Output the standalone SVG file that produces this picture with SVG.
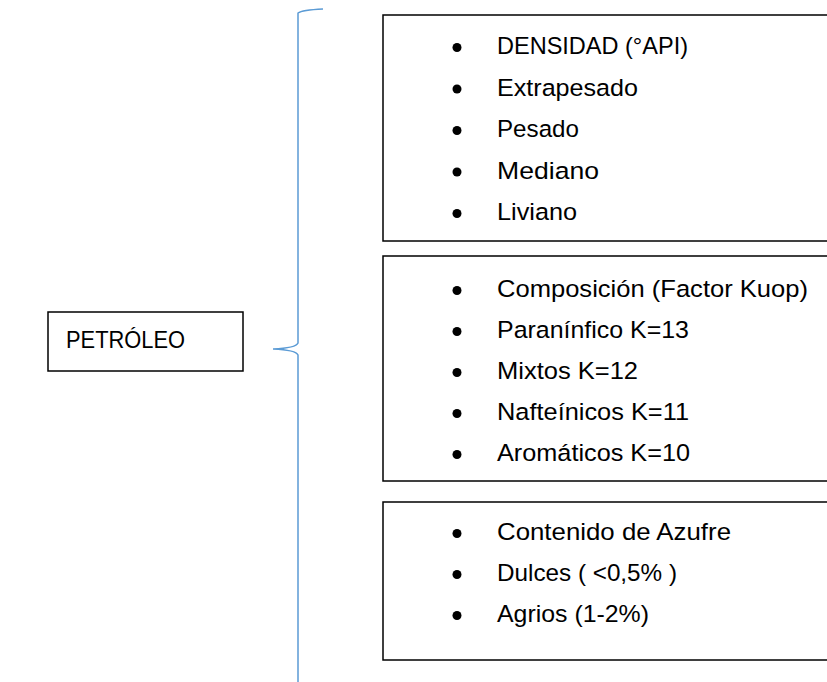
<svg xmlns="http://www.w3.org/2000/svg" width="827" height="682" viewBox="0 0 827 682">
<style>
.box{fill:#fff;stroke:#000;stroke-width:1.5}
.t{font-family:"Liberation Sans",Arial,sans-serif;font-size:24.5px;fill:#000}
.b{fill:#000}
.brace{fill:none;stroke:#5b9bd5;stroke-width:1.5}
</style>
<rect width="827" height="682" fill="#fff"/>
<g id="connectors">
<path class="brace" d="M323,9 Q302,10 298,13 L298,343 Q296,348 273,349 Q296,350 298,355 L298,682"/>
</g>
<g id="petroleo">
<rect class="box" x="48" y="312" width="195" height="59"/>
<text class="t" x="66" y="348" textLength="119" lengthAdjust="spacingAndGlyphs">PETRÓLEO</text>
</g>
<g id="densidad">
<rect class="box" x="383" y="15" width="500" height="226"/>
<circle class="b" cx="457" cy="47.5" r="4.5"/><text class="t" x="497" y="54" textLength="191" lengthAdjust="spacingAndGlyphs">DENSIDAD (°API)</text>
<circle class="b" cx="457" cy="89" r="4.5"/><text class="t" x="497" y="95.5" textLength="141" lengthAdjust="spacingAndGlyphs">Extrapesado</text>
<circle class="b" cx="457" cy="130.5" r="4.5"/><text class="t" x="497" y="137" textLength="82" lengthAdjust="spacingAndGlyphs">Pesado</text>
<circle class="b" cx="457" cy="172" r="4.5"/><text class="t" x="497" y="178.5" textLength="102" lengthAdjust="spacingAndGlyphs">Mediano</text>
<circle class="b" cx="457" cy="213.5" r="4.5"/><text class="t" x="497" y="220" textLength="80" lengthAdjust="spacingAndGlyphs">Liviano</text>
</g>
<g id="composicion">
<rect class="box" x="383" y="256" width="500" height="225"/>
<circle class="b" cx="457" cy="290.5" r="4.5"/><text class="t" x="497" y="297" textLength="311" lengthAdjust="spacingAndGlyphs">Composición (Factor Kuop)</text>
<circle class="b" cx="457" cy="331.5" r="4.5"/><text class="t" x="497" y="338" textLength="192" lengthAdjust="spacingAndGlyphs">Paranínfico K=13</text>
<circle class="b" cx="457" cy="372.5" r="4.5"/><text class="t" x="497" y="379" textLength="141" lengthAdjust="spacingAndGlyphs">Mixtos K=12</text>
<circle class="b" cx="457" cy="413.5" r="4.5"/><text class="t" x="497" y="420" textLength="192" lengthAdjust="spacingAndGlyphs">Nafteínicos K=11</text>
<circle class="b" cx="457" cy="454.5" r="4.5"/><text class="t" x="497" y="461" textLength="193" lengthAdjust="spacingAndGlyphs">Aromáticos K=10</text>
</g>
<g id="azufre">
<rect class="box" x="383" y="502" width="500" height="158"/>
<circle class="b" cx="457" cy="533.5" r="4.5"/><text class="t" x="497" y="540" textLength="234" lengthAdjust="spacingAndGlyphs">Contenido de Azufre</text>
<circle class="b" cx="457" cy="574.5" r="4.5"/><text class="t" x="497" y="581" textLength="180" lengthAdjust="spacingAndGlyphs">Dulces ( &lt;0,5% )</text>
<circle class="b" cx="457" cy="615.5" r="4.5"/><text class="t" x="497" y="622" textLength="152" lengthAdjust="spacingAndGlyphs">Agrios (1-2%)</text>
</g>
</svg>
